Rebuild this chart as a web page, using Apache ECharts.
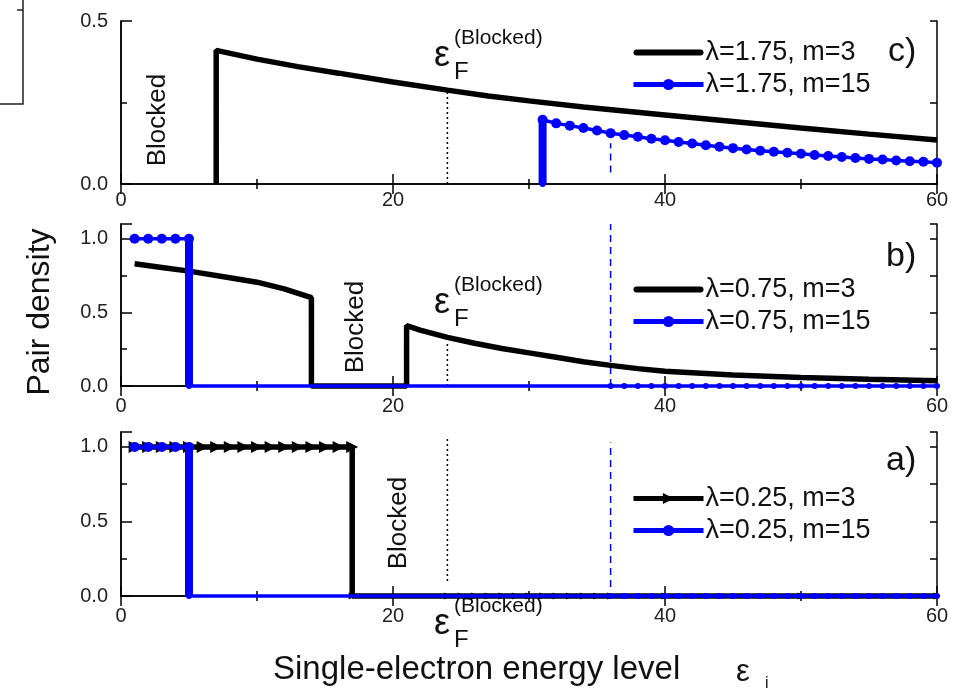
<!DOCTYPE html>
<html>
<head>
<meta charset="utf-8">
<script src="https://cdn.jsdelivr.net/npm/echarts@6/dist/echarts.min.js"></script>
<style>
  html, body { margin: 0; padding: 0; background: #fff; }
  #chart { width: 958px; height: 694px; }
</style>
</head>
<body>
<div id="chart"></div>
<script>
// panel c) lambda = 1.75
const c_m3 = [[7, 0], [7, 0.41], [10, 0.383], [13, 0.36], [16, 0.34], [20, 0.313], [24, 0.288],
  [27, 0.27], [30, 0.255], [34, 0.236], [40, 0.212], [45, 0.192], [50, 0.172], [55, 0.153],
  [60, 0.135]];
const c_m15 = [[31, 0], [31, 0.197], [32, 0.186], [33, 0.179], [34, 0.172], [35, 0.164], [36, 0.156],
  [37, 0.150], [38, 0.145], [39, 0.139], [40, 0.134], [41, 0.129], [42, 0.124], [43, 0.119],
  [44, 0.114], [45, 0.110], [46, 0.106], [47, 0.102], [48, 0.099], [49, 0.096], [50, 0.093],
  [51, 0.089], [52, 0.086], [53, 0.083], [54, 0.080], [55, 0.077], [56, 0.075], [57, 0.072],
  [58, 0.070], [59, 0.068], [60, 0.065]];
const c_fermi = [[24, 0], [24, 0.285]];
const c_dash = [[36, 0.035], [36, 0.125]];

// panel b) lambda = 0.75
const b_m3 = [[1, 0.83], [3, 0.805], [5, 0.78], [8, 0.735], [10, 0.705], [12, 0.66], [14, 0.6],
  [14, 0], [21, 0], [21, 0.41], [22, 0.38], [24, 0.33], [26, 0.29], [28, 0.255], [30, 0.225],
  [32, 0.195], [34, 0.165], [36, 0.14], [38, 0.118], [40, 0.1], [45, 0.075], [50, 0.057],
  [55, 0.045], [60, 0.035]];
const b_m15 = [[1, 1], [2, 1], [3, 1], [4, 1], [5, 1], [5, 0], [36, 0], [37, 0], [38, 0], [39, 0],
  [40, 0], [41, 0], [42, 0], [43, 0], [44, 0], [45, 0], [46, 0], [47, 0], [48, 0], [49, 0], [50, 0],
  [51, 0], [52, 0], [53, 0], [54, 0], [55, 0], [56, 0], [57, 0], [58, 0], [59, 0], [60, 0]];
const b_fermi = [[24, 0], [24, 0.30]];
const b_dash = [[36, 0], [36, 1.1]];

// panel a) lambda = 0.25
const a_m3 = [[1, 1], [2, 1], [3, 1], [4, 1], [5, 1], [6, 1], [7, 1], [8, 1], [9, 1], [10, 1],
  [11, 1], [12, 1], [13, 1], [14, 1], [15, 1], [16, 1], [17, 1], [17, 0], [24, 0], [25, 0], [26, 0],
  [27, 0], [28, 0], [29, 0], [30, 0], [31, 0], [32, 0], [33, 0], [34, 0], [35, 0], [36, 0], [40, 0],
  [50, 0], [60, 0]];
const a_m15 = [[1, 1], [2, 1], [3, 1], [4, 1], [5, 1], [5, 0], [36, 0], [37, 0], [38, 0], [39, 0],
  [40, 0], [41, 0], [42, 0], [43, 0], [44, 0], [45, 0], [46, 0], [47, 0], [48, 0], [49, 0], [50, 0],
  [51, 0], [52, 0], [53, 0], [54, 0], [55, 0], [56, 0], [57, 0], [58, 0], [59, 0], [60, 0]];
const a_fermi = [[24, 0.1], [24, 1.06]];
const a_dash = [[36, 0.06], [36, 1.03]];

const xMin = 0, xMax = 60, xStep = 20;

const FONT = 'Liberation Sans, Arial, sans-serif';
const BLUE = '#0000ff';
// plain capsule used as legend icon for the curves drawn without markers
const BAR_ICON = 'path://M3,0 L67,0 A3,3 0 0 1 67,6 L3,6 A3,3 0 0 1 3,0 Z';

const panels = [
  { top: 21, height: 163, yMax: 0.5, m3: c_m3, m15: c_m15, fermi: c_fermi, dash: c_dash,
    names: ['λ=1.75, m=3', 'λ=1.75, m=15'], m3Symbol: 'none', legendTop: 34, labelMargin: 6 },
  { top: 224, height: 162, yMax: 1.1, m3: b_m3, m15: b_m15, fermi: b_fermi, dash: b_dash,
    names: ['λ=0.75, m=3', 'λ=0.75, m=15'], m3Symbol: 'none', legendTop: 271, labelMargin: 10 },
  { top: 432, height: 164, yMax: 1.1, m3: a_m3, m15: a_m15, fermi: a_fermi, dash: a_dash,
    names: ['λ=0.25, m=3', 'λ=0.25, m=15'], m3Symbol: 'triangle', legendTop: 480, labelMargin: 10 }
];

// vertical drop of a series (two points with the same level)
function dropOf(data) {
  for (let i = 0; i + 1 < data.length; i++) {
    if (data[i][0] === data[i + 1][0]) {
      const y0 = data[i][1], y1 = data[i + 1][1];
      return [[data[i][0], Math.max(y0, y1)], [data[i][0], Math.min(y0, y1)]];
    }
  }
  return [];
}

const axisLine = { show: true, lineStyle: { color: '#000', width: 1.5 } };
const grid = [], xAxis = [], yAxis = [], series = [], legend = [];

panels.forEach(function (p, g) {
  grid.push({ left: 121, right: 21, top: p.top, height: p.height });

  const xBase = { gridIndex: g, type: 'value', min: xMin, max: xMax, interval: xStep,
    axisLine: axisLine, splitLine: { show: false },
    axisTick: { inside: true, length: 10, lineStyle: { color: '#000', width: 1.5 } },
    minorTick: { show: true, splitNumber: 2, length: 5, lineStyle: { color: '#000', width: 1.5 } } };
  xAxis.push(Object.assign({}, xBase, { position: 'bottom',
    axisLabel: { margin: p.labelMargin, fontSize: 20, fontFamily: FONT, color: '#222' } }));
  xAxis.push(Object.assign({}, xBase, { position: 'top', axisLabel: { show: false } }));

  const yBase = { gridIndex: g, type: 'value', min: 0, max: p.yMax, axisLine: axisLine,
    splitLine: { show: false } };
  yAxis.push(Object.assign({}, yBase, { position: 'left', interval: 0.5,
    axisTick: { inside: true, length: 11, lineStyle: { color: '#000', width: 1.5 } },
    axisLabel: { margin: 13, fontSize: 20, fontFamily: FONT, color: '#222',
      formatter: function (v) {
        const k = v / 0.5;
        return Math.abs(k - Math.round(k)) < 1e-6 ? v.toFixed(1) : '';
      } } }));
  yAxis.push(Object.assign({}, yBase, { position: 'left', interval: 0.25,
    axisTick: { inside: true, length: 6, lineStyle: { color: '#000', width: 1.5 } },
    axisLabel: { show: false } }));
  yAxis.push(Object.assign({}, yBase, { position: 'right', interval: 0.25,
    axisTick: { inside: true, length: 7, lineStyle: { color: '#000', width: 1.5 } },
    axisLabel: { show: false } }));

  const ax = { xAxisIndex: g * 2, yAxisIndex: g * 3, clip: false };

  series.push(Object.assign({ type: 'line', data: p.fermi, symbol: 'none', silent: true,
    lineStyle: { color: '#000', width: 1.5, type: [2, 3] }, z: 1 }, ax));
  series.push(Object.assign({ type: 'line', data: p.dash, symbol: 'none', silent: true,
    lineStyle: { color: BLUE, width: 1.5, type: [7, 5] }, z: 1 }, ax));
  series.push(Object.assign({ type: 'line', name: p.names[0], data: p.m3,
    symbol: p.m3Symbol, symbolRotate: -90,
    symbolSize: function (v) { return v[1] === 0 ? 7 : 12; },
    showAllSymbol: true, color: '#000', itemStyle: { color: '#000' },
    lineStyle: { color: '#000', width: 5.5 }, z: 2 }, ax));
  series.push(Object.assign({ type: 'line', data: dropOf(p.m15), symbol: 'none', silent: true,
    lineStyle: { color: BLUE, width: 8 }, z: 3 }, ax));
  series.push(Object.assign({ type: 'line', name: p.names[1], data: p.m15,
    symbol: 'circle', symbolSize: function (v) { return v[1] === 0 ? 6 : 10; },
    showAllSymbol: true, color: BLUE, itemStyle: { color: BLUE },
    lineStyle: { color: BLUE, width: 3.5 }, z: 4 }, ax));

  const first = p.m3Symbol === 'none' ? { name: p.names[0], icon: BAR_ICON } : { name: p.names[0] };
  legend.push({ data: [first, { name: p.names[1] }], orient: 'vertical', left: 626, top: p.legendTop,
    itemWidth: 70, itemHeight: 14, itemGap: 5, selectedMode: false,
    lineStyle: { width: 5 },
    textStyle: { fontSize: 27, fontFamily: FONT, color: '#111', padding: [0, 0, 0, -3] } });
});

function txt(x, y, s, size, extra) {
  return Object.assign({ type: 'text', x: x, y: y, silent: true,
    style: { text: s, fontSize: size, fontFamily: FONT, fill: '#111',
      align: 'left', verticalAlign: 'middle' } }, extra || {});
}
function fermiLabel(x, y) {
  return [txt(x, y, 'ε', 36), txt(x + 20, y + 16, 'F', 24), txt(x + 20, y - 18, '(Blocked)', 21)];
}
function rotated(x, y, s, size) {
  const t = txt(x, y, s, size, { rotation: Math.PI / 2 });
  t.style.align = 'center';
  return t;
}

const graphic = [].concat(
  fermiLabel(434, 56), fermiLabel(434, 303), fermiLabel(434, 624),
  [
    rotated(158, 120, 'Blocked', 26),
    rotated(356, 327, 'Blocked', 26),
    rotated(399, 523, 'Blocked', 26),
    txt(888, 52, 'c)', 34), txt(886, 257, 'b)', 34), txt(886, 461, 'a)', 34),
    rotated(40, 312, 'Pair density', 32),
    txt(273, 670, 'Single-electron energy level', 33),
    txt(736, 672, 'ε', 31),
    txt(765, 684, 'i', 16),
    { type: 'polyline', silent: true, shape: { points: [[23, 0], [23, 104], [0, 104]] },
      style: { stroke: '#222', lineWidth: 1.5, fill: null } },
    { type: 'line', silent: true, shape: { x1: 17, y1: 10, x2: 23, y2: 10 },
      style: { stroke: '#222', lineWidth: 1.5 } }
  ]
);

const chart = echarts.init(document.getElementById('chart'));
chart.setOption({
  animation: false,
  backgroundColor: '#fff',
  grid: grid,
  xAxis: xAxis,
  yAxis: yAxis,
  legend: legend,
  series: series,
  graphic: graphic
});
</script>
</body>
</html>
